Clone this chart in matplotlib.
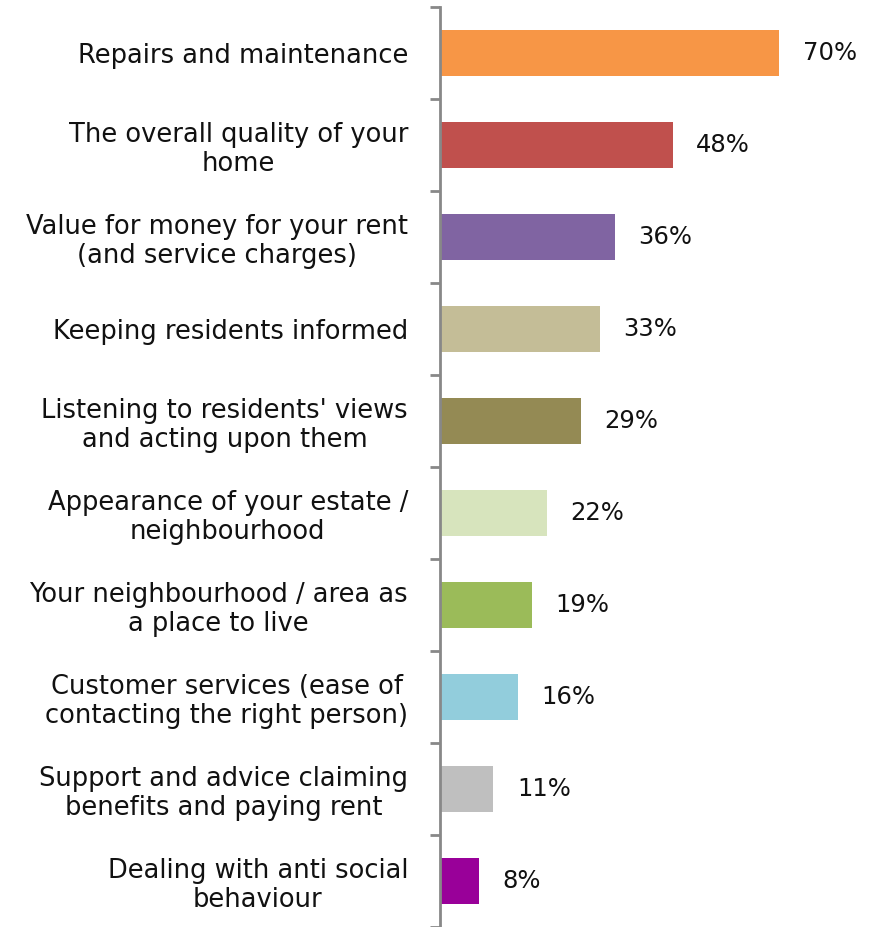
import matplotlib
matplotlib.use("Agg")
import matplotlib.pyplot as plt
import numpy as np

# Priorities for residents, percentage of respondents
categories = [
    "Repairs and maintenance",
    "The overall quality of your\nhome",
    "Value for money for your rent\n(and service charges)",
    "Keeping residents informed",
    "Listening to residents' views\nand acting upon them",
    "Appearance of your estate /\nneighbourhood",
    "Your neighbourhood / area as\na place to live",
    "Customer services (ease of\ncontacting the right person)",
    "Support and advice claiming\nbenefits and paying rent",
    "Dealing with anti social\nbehaviour",
]
values = [70, 48, 36, 33, 29, 22, 19, 16, 11, 8]
colors = ["#F79646", "#C0504D", "#8064A2", "#C4BD97", "#948A54",
          "#D7E4BD", "#9BBB59", "#92CDDC", "#BFBFBF", "#990099"]

W, H = 874, 927
fig = plt.figure(figsize=(W / 100, H / 100), dpi=100)
ax = fig.add_axes([440 / W, 0, (W - 440) / W, (H - 7) / H])

n = len(categories)
y = np.arange(n)
ax.barh(y, values, height=0.51, color=colors)
ax.set_ylim(n - 0.5, -0.5)
ax.set_xlim(0, 89.5)

# value labels to the right of each bar
for yi, v in zip(y, values):
    ax.annotate(f"{v}%", (v, yi), xytext=(17, 0), textcoords="offset points",
                va="center", ha="left", fontsize=17.5, color="#111111")

ax.set_yticks(y)
ax.set_yticklabels(categories, fontsize=18.5, color="#111111", linespacing=1.17,
                   ha="right", multialignment="center")
ax.set_yticks(np.arange(n + 1) - 0.5, minor=True)
ax.tick_params(axis="y", which="major", length=0, pad=23)
ax.tick_params(axis="y", which="minor", length=7.5, width=2, color="#888888")

ax.set_xticks([])
for s in ["top", "right", "bottom"]:
    ax.spines[s].set_visible(False)
ax.spines["left"].set_color("#888888")
ax.spines["left"].set_linewidth(2)

fig.savefig("out.png", dpi=100)
